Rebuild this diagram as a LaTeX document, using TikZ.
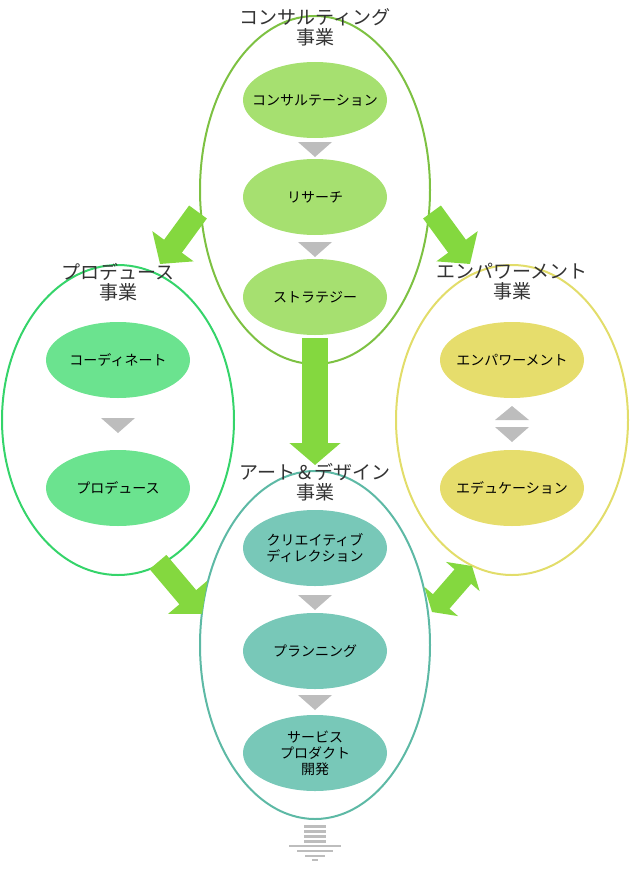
\documentclass[tikz,border=0pt]{standalone}
\usepackage{fontspec}
\setmainfont{Noto Sans CJK JP}
\usetikzlibrary{arrows.meta,shapes.geometric}
\definecolor{cC}{HTML}{7DC142}\definecolor{cCi}{HTML}{A6E070}
\definecolor{cP}{HTML}{35D46A}\definecolor{cPi}{HTML}{6BE38F}
\definecolor{cE}{HTML}{E2DD6A}\definecolor{cEi}{HTML}{E6DD6C}
\definecolor{cA}{HTML}{5DB9A5}\definecolor{cAi}{HTML}{78C8B8}
\definecolor{arr}{HTML}{84D83F}\definecolor{tri}{HTML}{BDBDBD}
\tikzset{
 big/.style={ellipse,draw=#1,line width=2pt,minimum width=230pt,inner sep=0pt},
 itxt/.style={align=center,inner sep=0pt,font=\fontsize{14}{16}\selectfont},
 ttl/.style={align=center,font=\fontsize{19}{20}\selectfont,text=black!80},
 blk/.style={arr,line width=22pt,-{Triangle[length=22pt,width=50pt]}},
 blk2/.style={arr,line width=22pt,{Triangle[length=14pt,width=44pt]}-{Triangle[length=14pt,width=44pt]}},
}
\newcommand{\inell}[5]{\fill[#1] (#2,#3) ellipse (72 and 38); \node[itxt] (#4) at (#2,#3) {#5};}
\begin{document}
\begin{tikzpicture}[x=1pt,y=-1pt]
\useasboundingbox (0,0) rectangle (630,875);
% big ellipses
\node[big=cC,minimum height=348pt] (con) at (315,190) {};
\node[big=cP,minimum height=310pt,minimum width=232pt] (pro) at (118,420) {};
\node[big=cE,minimum height=310pt,minimum width=232pt] (emp) at (512,420) {};
\node[big=cA,minimum height=348pt] (art) at (315,645) {};
% titles
\node[ttl] (t1) at (315,27) {コンサルティング\\事業};
\node[ttl] (t2) at (118,282) {プロデュース\\事業};
\node[ttl] (t3) at (512,282) {エンパワーメント\\事業};
\node[ttl] (t4) at (315,482) {アート＆デザイン\\事業};
% inner
\inell{cCi}{315}{100}{c1}{コンサルテーション}
\inell{cCi}{315}{197}{c2}{リサーチ}
\inell{cCi}{315}{297}{c3}{ストラテジー}
\inell{cPi}{118}{360}{p1}{コーディネート}
\inell{cPi}{118}{488}{p2}{プロデュース}
\inell{cEi}{512}{360}{e1}{エンパワーメント}
\inell{cEi}{512}{488}{e2}{エデュケーション}
\inell{cAi}{315}{548}{a1}{クリエイティブ\\ディレクション}
\inell{cAi}{315}{651}{a2}{プランニング}
\inell{cAi}{315}{753}{a3}{サービス\\プロダクト\\開発}
% gray triangles
\foreach \x/\y in {315/142,315/242,118/418,315/595,315/695}
  \fill[tri] (\x-17,\y) -- (\x+17,\y) -- (\x,\y+15) -- cycle;
\fill[tri] (495,420) -- (529,420) -- (512,406) -- cycle;
\fill[tri] (495,427) -- (529,427) -- (512,442) -- cycle;
% block arrows
\coordinate (l1) at (198,212); \coordinate (l2) at (160,264);
\coordinate (r1) at (432,212); \coordinate (r2) at (470,264);
\coordinate (d1) at (315,338); \coordinate (d2) at (315,465);
\coordinate (pa1) at (158,562); \coordinate (pa2) at (202,614);
\coordinate (ae1) at (432,612); \coordinate (ae2) at (472,566);
\draw[blk] (l1) -- (l2);
\draw[blk] (r1) -- (r2);
\draw[blk,line width=26pt] (d1) -- (d2);
\draw[blk] (pa1) -- (pa2);
\draw[blk2] (ae1) -- (ae2);
% bottom striped arrow
\foreach \y in {826,831,836,841} \draw[tri,line width=3pt] (304,\y) -- (326,\y);
\foreach \y/\w in {846/26,851/18,856/10,860/3} \draw[tri,line width=2.5pt] (315-\w,\y) -- (315+\w,\y);
\end{tikzpicture}
\end{document}
